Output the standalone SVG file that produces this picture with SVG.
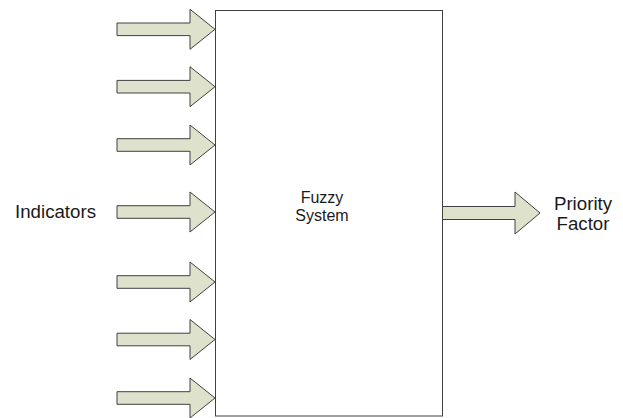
<svg xmlns="http://www.w3.org/2000/svg" width="623" height="418" viewBox="0 0 623 418">
<defs>
<style>
.arrow{fill:#dee1cb;stroke:#404040;stroke-width:1;stroke-linejoin:miter}
.box{fill:#ffffff;stroke:#404040;stroke-width:1}
.lbl{font-family:"Liberation Sans",Arial,sans-serif;font-size:18.7px;fill:#1a1a1a}
.inner{font-family:"Liberation Sans",Arial,sans-serif;font-size:16px;fill:#1a1a1a;text-anchor:middle}
</style>
<path id="inArrow" class="arrow" d="M-98,-6.3 H-25 V-20 L0,0 L-25,20 V6.3 H-98 Z"/>
</defs>
<rect width="623" height="418" fill="#ffffff"/>
<g id="connectors">
<use href="#inArrow" x="215" y="29.3"/>
<use href="#inArrow" x="215" y="86.7"/>
<use href="#inArrow" x="215" y="145"/>
<use href="#inArrow" x="215" y="212"/>
<use href="#inArrow" x="215" y="282"/>
<use href="#inArrow" x="215" y="339.5"/>
<use href="#inArrow" x="215" y="398"/>
<path id="outArrow" class="arrow" d="M442.5,206.5 H515 V192 L540,213 L515,234 V219.5 H442.5 Z"/>
</g>
<g id="fuzzy-system">
<rect class="box" x="215.5" y="10.5" width="227" height="405.5"/>
<text class="inner" x="322" y="203.3">Fuzzy</text>
<text class="inner" x="322" y="221">System</text>
</g>
<g id="indicators">
<text class="lbl" x="15" y="218.3">Indicators</text>
</g>
<g id="priority-factor">
<text class="lbl" x="583" y="210" text-anchor="middle">Priority</text>
<text class="lbl" x="583" y="230" text-anchor="middle">Factor</text>
</g>
</svg>
